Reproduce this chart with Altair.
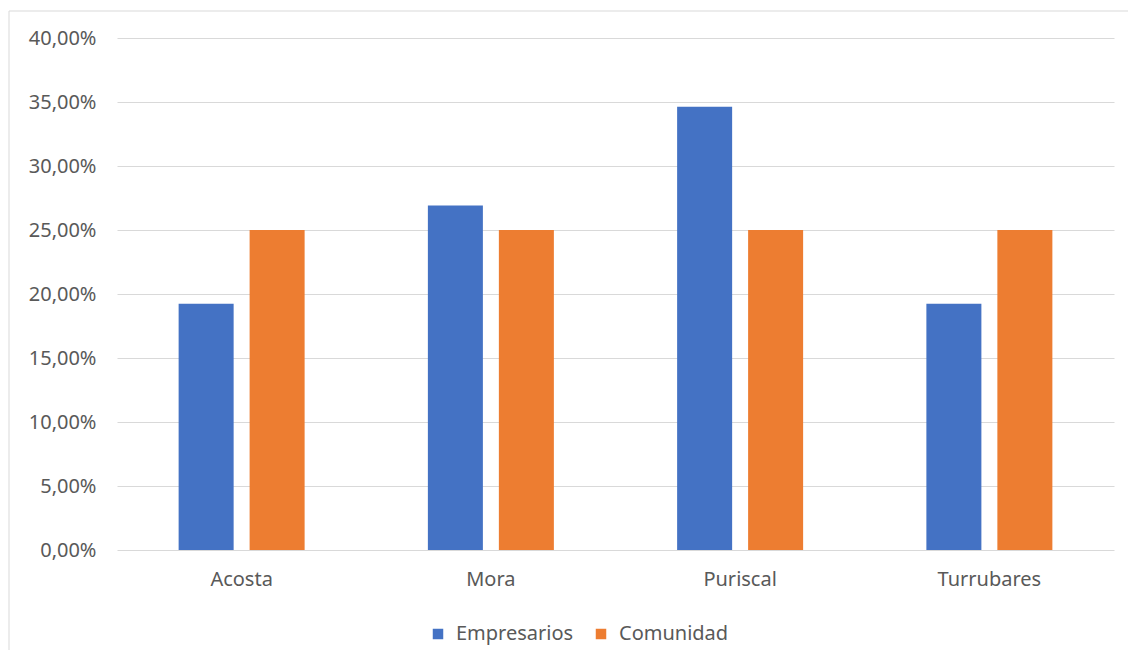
import altair as alt
import pandas as pd

municipios = ["Acosta", "Mora", "Puriscal", "Turrubares"]
grupos = ["Empresarios", "Comunidad"]
empresarios = [0.1923, 0.2692, 0.3462, 0.1923]
comunidad = [0.25, 0.25, 0.25, 0.25]
y_ticks = [0, 0.05, 0.10, 0.15, 0.20, 0.25, 0.30, 0.35, 0.40]
colores = ["#4472c4", "#ed7d31"]

rows = []
for i, m in enumerate(municipios):
    rows.append({"Municipio": m, "Grupo": grupos[0], "Valor": empresarios[i]})
    rows.append({"Municipio": m, "Grupo": grupos[1], "Valor": comunidad[i]})
df = pd.DataFrame(rows)

FONT = "Noto Sans"
FS = 20
W, H = 997, 512

bars = alt.Chart(df).mark_bar().encode(
    x=alt.X("Municipio:N", sort=municipios,
            scale=alt.Scale(paddingInner=0.4945, paddingOuter=0.24725),
            axis=alt.Axis(title=None, labelAngle=0, ticks=False, domain=False,
                          labelPadding=19, labelFontSize=FS, labelColor="#595959",
                          labelFont=FONT, grid=False)),
    xOffset=alt.XOffset("Grupo:N", sort=grupos,
                        scale=alt.Scale(paddingInner=0.225, paddingOuter=0)),
    y=alt.Y("Valor:Q", scale=alt.Scale(domain=[0, 0.4]),
            axis=alt.Axis(title=None, values=y_ticks, ticks=False, domain=False,
                          labelExpr="replace(format(datum.value, '.2%'), '.', ',')",
                          labelPadding=21, labelFontSize=FS, labelColor="#595959",
                          labelFont=FONT, gridColor="#d9d9d9", gridWidth=1)),
    color=alt.Color("Grupo:N", sort=grupos,
                    scale=alt.Scale(domain=grupos, range=colores),
                    legend=alt.Legend(title=None, orient="none", direction="horizontal",
                                      legendX=311, legendY=586,
                                      symbolType="square", symbolSize=110,
                                      symbolStrokeWidth=0,
                                      labelFontSize=FS, labelColor="#595959",
                                      labelFont=FONT, labelOffset=8,
                                      columnPadding=17, labelLimit=250)),
)

border = alt.Chart(pd.DataFrame({"b": [0]})).mark_rect(
    fill="transparent", stroke="#d9d9d9", strokeWidth=1
).encode(
    x=alt.value(-108), x2=alt.value(1030), y=alt.value(-27), y2=alt.value(640)
)

chart = alt.layer(border, bars).properties(
    width=W, height=H,
    autosize=alt.AutoSizeParams(type="none"),
    padding={"left": 109, "top": 30, "right": 14, "bottom": 100},
).configure_view(stroke=None)

chart.save("out.html", embed_options={"renderer": "svg", "actions": False})
